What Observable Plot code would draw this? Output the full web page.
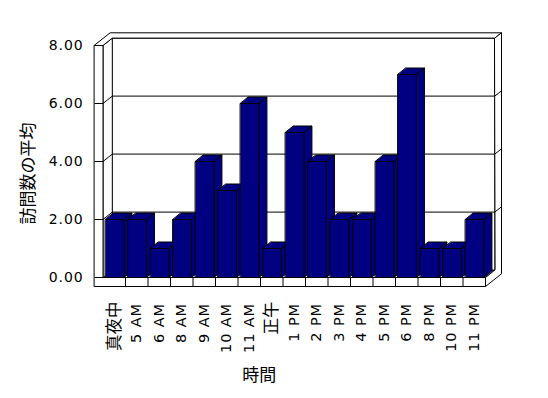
<!DOCTYPE html>
<html>
<head>
<meta charset="utf-8">
<script src="https://cdn.jsdelivr.net/npm/d3@7"></script>
<script src="https://cdn.jsdelivr.net/npm/@observablehq/plot@0.6"></script>
<style>
  html, body { margin: 0; padding: 0; background: #fff; }
  svg g[font-family="DejaVu Sans"] text { letter-spacing: 0.9px; }
</style>
</head>
<body>
<div id="chart"></div>
<script>
// ---- data ----
const categories = ["真夜中","5 AM","6 AM","8 AM","9 AM","10 AM","11 AM","正午","1 PM","2 PM","3 PM","4 PM","5 PM","6 PM","8 PM","10 PM","11 PM"];
const values = [2, 2, 1, 2, 4, 3, 6, 1, 5, 4, 2, 2, 4, 7, 1, 1, 2];
const yTicks = [0, 2, 4, 6, 8];
const yTickLabels = ["0.00", "2.00", "4.00", "6.00", "8.00"];
const yTitle = "訪問数の平均";
const xTitle = "時間";

// ---- layout ----
const W = 548, H = 398;
const mL = 102.5, mR = 63, mT = 45, mB = 121;
const N = categories.length;
const kx = (W - mL - mR) / N;          // px per category
const ky = (H - mT - mB) / 8;          // px per y unit
const ux = px => px / kx, uy = px => px / ky;

// 3D geometry (pixel sizes converted to data units)
const DX = ux(9.3), DY = uy(7.4);      // floor depth
const TX = ux(16), TY = uy(12.7);      // depth incl. back wall thickness
const OX = -ux(8.5);                   // left wall outer edge
const FB = -uy(9);                     // floor bottom
const BDX = ux(8), BDY = uy(6.5);      // bar depth
const BL = 0.11, BR = 0.93;            // bar inset within category

const framePolys = [];
function fpoly(g, pts) { pts.forEach(([x, y]) => framePolys.push({g, x, y})); }
fpoly("floor", [[0,0],[N,0],[N+DX,DY],[DX,DY]]);
fpoly("back", [[DX,DY],[N+DX,DY],[N+DX,8+DY],[DX,8+DY]]);
fpoly("leftInner", [[0,0],[0,8],[DX,8+DY],[DX,DY]]);
fpoly("cap", [[OX,8],[0,8],[DX,8+DY],[N+DX,8+DY],[N+TX,8+TY],[OX+TX,8+TY]]);
fpoly("rightEnd", [[N+DX,8+DY],[N+TX,8+TY],[N+TX,FB+TY],[N,FB],[N,0],[N+DX,DY]]);
fpoly("front", [[OX,8],[0,8],[0,0],[N,0],[N,FB],[OX,FB]]);

const segs = [];
yTicks.forEach(v => {
  segs.push({x1: OX, y1: v, x2: 0, y2: v});
  if (v > 0 && v < 8) {
    segs.push({x1: 0, y1: v, x2: DX, y2: v + DY});
    segs.push({x1: DX, y1: v + DY, x2: N + DX, y2: v + DY});
    segs.push({x1: N + DX, y1: v + DY, x2: N + TX, y2: v + TY});
  }
});
for (let i = 1; i < N; i++) segs.push({x1: i, y1: FB, x2: i, y2: 0});

const barPolys = [];
values.forEach((v, i) => {
  const l = i + BL, r = i + BR;
  const add = (g, pts) => pts.forEach(([x, y]) => barPolys.push({g: i + g, x, y}));
  add("s", [[r,0],[r+BDX,BDY],[r+BDX,v+BDY],[r,v]]);
  add("t", [[l,v],[r,v],[r+BDX,v+BDY],[l+BDX,v+BDY]]);
  add("f", [[l,0],[r,0],[r,v],[l,v]]);
});

const isCJK = s => /[\u3000-\u9fff]/.test(s);
const latinFont = "DejaVu Sans";
const cjkFont = "Noto Sans CJK JP";

const chart = Plot.plot({
  width: W, height: H,
  marginLeft: mL, marginRight: mR, marginTop: mT, marginBottom: mB,
  x: {type: "linear", domain: [0, N], axis: null},
  y: {type: "linear", domain: [0, 8], axis: null},
  style: {background: "white", color: "black", overflow: "visible"},
  marks: [
    Plot.line(framePolys, {x: "x", y: "y", z: "g", fill: "white", stroke: "black", strokeWidth: 1, curve: "linear-closed", strokeLinejoin: "miter"}),
    Plot.link(segs, {x1: "x1", y1: "y1", x2: "x2", y2: "y2", stroke: "black", strokeWidth: 1}),
    Plot.line(barPolys, {x: "x", y: "y", z: "g", fill: "#000080", stroke: "black", strokeWidth: 1, curve: "linear-closed", strokeLinejoin: "miter"}),
    Plot.text(yTicks, {x: 0, y: d => d, text: (d, i) => yTickLabels[i], dx: -19.5, textAnchor: "end", fontSize: 14, fontFamily: latinFont, fill: "black"}),
    Plot.text(categories.map((c, i) => ({c, i})).filter(d => !isCJK(d.c)), {x: d => d.i + 0.5, y: 0, text: "c", dy: 25.5, rotate: -90, textAnchor: "end", fontSize: 14.5, fontFamily: latinFont, fill: "black"}),
    Plot.text(categories.map((c, i) => ({c, i})).filter(d => isCJK(d.c)), {x: d => d.i + 0.5, y: 0, text: "c", dy: 24, rotate: -90, textAnchor: "end", fontSize: 16.5, fontFamily: cjkFont, fill: "black"}),
    Plot.text([yTitle], {frameAnchor: "left", dx: -74.5, dy: 12, rotate: -90, textAnchor: "middle", lineAnchor: "middle", fontSize: 17, fontFamily: cjkFont, fill: "black"}),
    Plot.text([xTitle], {frameAnchor: "bottom", dx: -35, dy: 98, textAnchor: "middle", lineAnchor: "middle", fontSize: 17, fontFamily: cjkFont, fill: "black"})
  ]
});
document.getElementById("chart").appendChild(chart);
</script>
</body>
</html>
